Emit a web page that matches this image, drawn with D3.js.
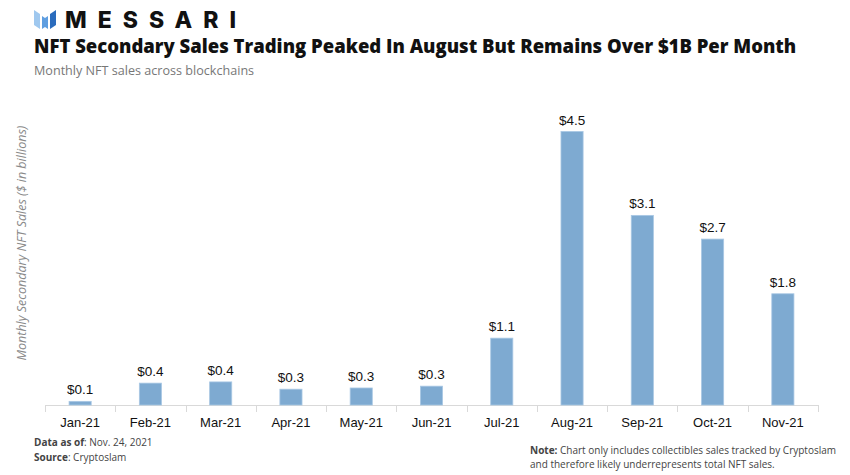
<!DOCTYPE html>
<html>
<head>
<meta charset="utf-8">
<script src="https://cdn.jsdelivr.net/npm/d3@7"></script>
<style>
  body { margin: 0; background: #fff; }
  text { font-family: "Open Sans", sans-serif; }
</style>
</head>
<body>
<div id="chart"></div>
<script>
const months = ["Jan-21", "Feb-21", "Mar-21", "Apr-21", "May-21", "Jun-21", "Jul-21", "Aug-21", "Sep-21", "Oct-21", "Nov-21"];
const sales = [0.06, 0.36, 0.38, 0.26, 0.28, 0.31, 1.10, 4.50, 3.12, 2.73, 1.83];

const W = 850, H = 475;
let margin = { top: 90, right: 32, bottom: 70, left: 45 },
    width = W - margin.left - margin.right,
    height = H - margin.top - margin.bottom;

let root = d3.select("#chart").append("svg")
    .attr("width", W)
    .attr("height", H);

// logo
let logo = root.append("g").attr("transform", "translate(34,10)");
logo.append("path").attr("d", "M0,0 L6,4 L6,19 L0,15 Z").attr("fill", "#9fc8ef");
logo.append("path").attr("d", "M8,6 L11,8 L14,6 L14,19 L11,17 L8,19 Z").attr("fill", "#5f9ee0");
logo.append("path").attr("d", "M16,4 L22,0 L22,15 L16,19 Z").attr("fill", "#2b6cbd");
root.append("text")
    .attr("x", 65).attr("y", 28)
    .style("font-family", "Inter, 'Open Sans', sans-serif")
    .style("font-weight", "800")
    .style("font-size", "23px")
    .style("letter-spacing", "11px")
    .attr("fill", "#111")
    .text("MESSARI");

root.append("text")
    .attr("x", 34).attr("y", 53)
    .style("font-weight", "800")
    .style("font-size", "18.5px")
    .attr("fill", "#111")
    .text("NFT Secondary Sales Trading Peaked In August But Remains Over $1B Per Month");

root.append("text")
    .attr("x", 34).attr("y", 75)
    .style("font-size", "12.6px")
    .attr("fill", "#777")
    .text("Monthly NFT sales across blockchains");

let svg = root.append("g")
    .attr("transform", "translate(" + margin.left + "," + margin.top + ")");

let x = d3.scaleBand()
    .range([0, width])
    .domain(months)
    .paddingInner(0.685)
    .paddingOuter(0.3425);

let y = d3.scaleLinear()
    .domain([0, 4.5])
    .range([height, height - 273.5]);

// axis line + boundary ticks
svg.append("line")
    .attr("x1", 0).attr("x2", width)
    .attr("y1", height + 0.5).attr("y2", height + 0.5)
    .attr("stroke", "#d9d9d9");
svg.selectAll("tick")
    .data(d3.range(months.length + 1))
    .enter()
    .append("line")
    .attr("x1", function (i) { return Math.round(i * width / months.length) + 0.5; })
    .attr("x2", function (i) { return Math.round(i * width / months.length) + 0.5; })
    .attr("y1", height)
    .attr("y2", height + 7)
    .attr("stroke", "#d9d9d9");

svg.selectAll("xlab")
    .data(months)
    .enter()
    .append("text")
    .attr("x", function (d) { return x(d) + x.bandwidth() / 2; })
    .attr("y", height + 22)
    .attr("text-anchor", "middle")
    .style("font-family", "'Liberation Sans', Arial, sans-serif")
    .style("font-size", "13px")
    .attr("fill", "#111")
    .text(function (d) { return d; });

// bars
svg.selectAll("mybar")
    .data(sales)
    .enter()
    .append("rect")
    .attr("x", function (d, i) { return x(months[i]); })
    .attr("y", function (d) { return y(d); })
    .attr("width", x.bandwidth())
    .attr("height", function (d) { return height - y(d); })
    .attr("fill", "#7eaad1")
    .attr("stroke", "#a9c8e4")
    .attr("stroke-width", 0.8);

svg.selectAll("vlab")
    .data(sales)
    .enter()
    .append("text")
    .attr("x", function (d, i) { return x(months[i]) + x.bandwidth() / 2; })
    .attr("y", function (d) { return y(d) - 7; })
    .attr("text-anchor", "middle")
    .style("font-family", "'Liberation Sans', Arial, sans-serif")
    .style("font-size", "13.5px")
    .attr("fill", "#111")
    .text(function (d) { return "$" + d.toFixed(1); });

// y title
root.append("text")
    .attr("transform", "translate(26,243)rotate(-90)")
    .attr("text-anchor", "middle")
    .style("font-style", "italic")
    .style("font-size", "12.5px")
    .attr("fill", "#8a8a8a")
    .text("Monthly Secondary NFT Sales ($ in billions)");

// footer
let f1 = root.append("text").attr("x", 34).attr("y", 446)
    .style("font-size", "10px").attr("fill", "#444");
f1.append("tspan").style("font-weight", "700").text("Data as of");
f1.append("tspan").text(": Nov. 24, 2021");
let f2 = root.append("text").attr("x", 34).attr("y", 461)
    .style("font-size", "10px").attr("fill", "#444");
f2.append("tspan").style("font-weight", "700").text("Source");
f2.append("tspan").text(": Cryptoslam");

let n1 = root.append("text").attr("x", 530).attr("y", 454)
    .style("font-size", "10px").attr("fill", "#444");
n1.append("tspan").style("font-weight", "700").text("Note:");
n1.append("tspan").text(" Chart only includes collectibles sales tracked by Cryptoslam");
root.append("text").attr("x", 530).attr("y", 468)
    .style("font-size", "10px").attr("fill", "#444")
    .text("and therefore likely underrepresents total NFT sales.");
</script>
</body>
</html>
